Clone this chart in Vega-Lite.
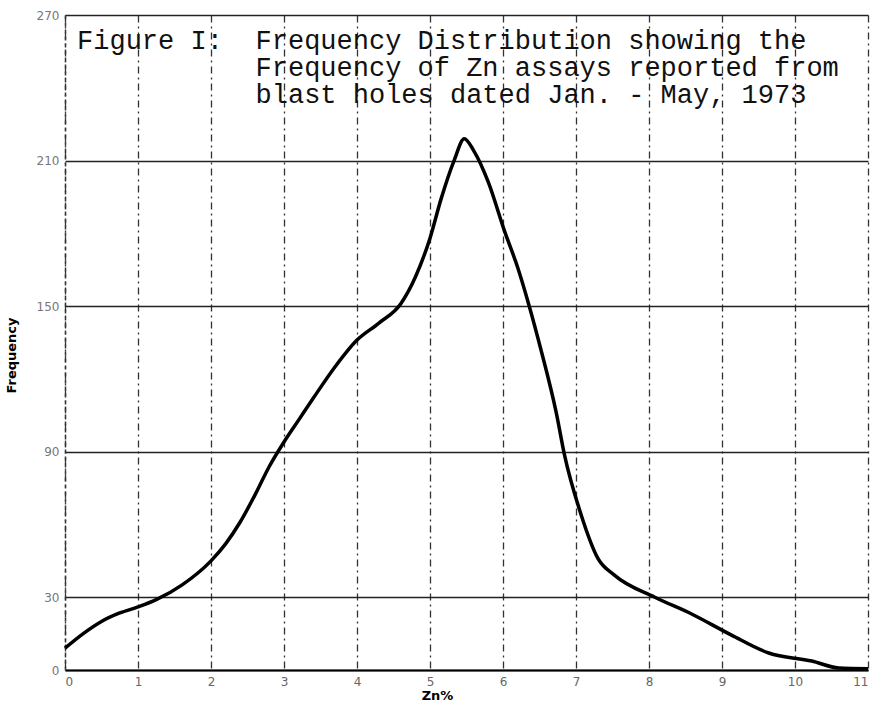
{
  "$schema": "https://vega.github.io/schema/vega-lite/v6.json",
  "width": 803,
  "height": 655,
  "autosize": {"type": "none"},
  "padding": {"left": 65, "top": 15, "right": 4, "bottom": 37},
  "background": "white",
  "config": {"view": {"stroke": null}},
  "layer": [
    {
      "data": {"values": [
        {"zn": 0, "freq": 9},
        {"zn": 0.25, "freq": 15},
        {"zn": 0.5, "freq": 20},
        {"zn": 0.75, "freq": 23.5},
        {"zn": 1, "freq": 26},
        {"zn": 1.25, "freq": 29},
        {"zn": 1.6, "freq": 35},
        {"zn": 2, "freq": 45},
        {"zn": 2.2, "freq": 52},
        {"zn": 2.4, "freq": 61},
        {"zn": 2.6, "freq": 72},
        {"zn": 2.8, "freq": 84},
        {"zn": 3, "freq": 94},
        {"zn": 3.2, "freq": 103},
        {"zn": 3.4, "freq": 112},
        {"zn": 3.7, "freq": 125},
        {"zn": 4, "freq": 136},
        {"zn": 4.3, "freq": 143},
        {"zn": 4.6, "freq": 151},
        {"zn": 4.8, "freq": 162},
        {"zn": 5, "freq": 178},
        {"zn": 5.15, "freq": 194},
        {"zn": 5.33, "freq": 210},
        {"zn": 5.47, "freq": 219},
        {"zn": 5.6, "freq": 214},
        {"zn": 5.8, "freq": 201},
        {"zn": 6.02, "freq": 181},
        {"zn": 6.2, "freq": 166},
        {"zn": 6.35, "freq": 151},
        {"zn": 6.52, "freq": 132},
        {"zn": 6.73, "freq": 106},
        {"zn": 6.84, "freq": 89},
        {"zn": 7.07, "freq": 64},
        {"zn": 7.3, "freq": 46},
        {"zn": 7.53, "freq": 39},
        {"zn": 8.08, "freq": 30},
        {"zn": 8.59, "freq": 23},
        {"zn": 9.13, "freq": 14.4},
        {"zn": 9.64, "freq": 7},
        {"zn": 10.23, "freq": 3.7},
        {"zn": 10.6, "freq": 0.8},
        {"zn": 11, "freq": 0.5}
      ]},
      "mark": {"type": "line", "color": "#000", "strokeWidth": 3.5, "interpolate": "monotone"},
      "encoding": {
        "x": {
          "field": "zn", "type": "quantitative",
          "scale": {"domain": [0, 11], "nice": false},
          "axis": {
            "title": "Zn%", "values": [0,1,2,3,4,5,6,7,8,9,10,11], "format": "d",
            "grid": true, "gridColor": "#333", "gridWidth": 1.3, "gridDash": [7, 4, 2, 4],
            "domain": true, "domainColor": "#000", "domainWidth": 2,
            "ticks": false, "labelPadding": 6,
            "labelFont": "DejaVu Sans", "labelFontSize": 12, "labelColor": "#666",
            "titleFont": "DejaVu Sans", "titleFontSize": 13, "titleFontWeight": "bold", "titleColor": "#000",
            "titlePadding": 2, "titleX": 372
          }
        },
        "y": {
          "field": "freq", "type": "quantitative",
          "scale": {"domain": [0, 270], "nice": false},
          "axis": {
            "title": "Frequency", "values": [0, 30, 90, 150, 210, 270], "format": "d",
            "grid": true, "gridColor": "#222", "gridWidth": 1.5,
            "domain": true, "domainColor": "#333", "domainWidth": 1.5, "domainDash": [4, 3],
            "ticks": false, "labelPadding": 6,
            "labelFont": "DejaVu Sans", "labelFontSize": 12, "labelColor": "#777",
            "titleFont": "DejaVu Sans", "titleFontSize": 13, "titleFontWeight": "bold", "titleColor": "#000",
            "titleX": -47, "titleY": 340
          }
        }
      }
    },
    {
      "data": {"values": [{"label": "Figure I:"}]},
      "mark": {"type": "text", "font": "Liberation Mono", "fontSize": 27, "align": "left", "baseline": "alphabetic", "color": "#111"},
      "encoding": {
        "text": {"field": "label"},
        "x": {"datum": 0.165},
        "y": {"datum": 256}
      }
    },
    {
      "data": {"values": [{"label": "caption"}]},
      "mark": {"type": "text", "text": ["Frequency Distribution showing the", "Frequency of Zn assays reported from", "blast holes dated Jan. - May, 1973"], "font": "Liberation Mono", "fontSize": 27, "lineHeight": 27, "align": "left", "baseline": "alphabetic", "color": "#111"},
      "encoding": {
        "x": {"datum": 2.61},
        "y": {"datum": 256}
      }
    }
  ]
}
